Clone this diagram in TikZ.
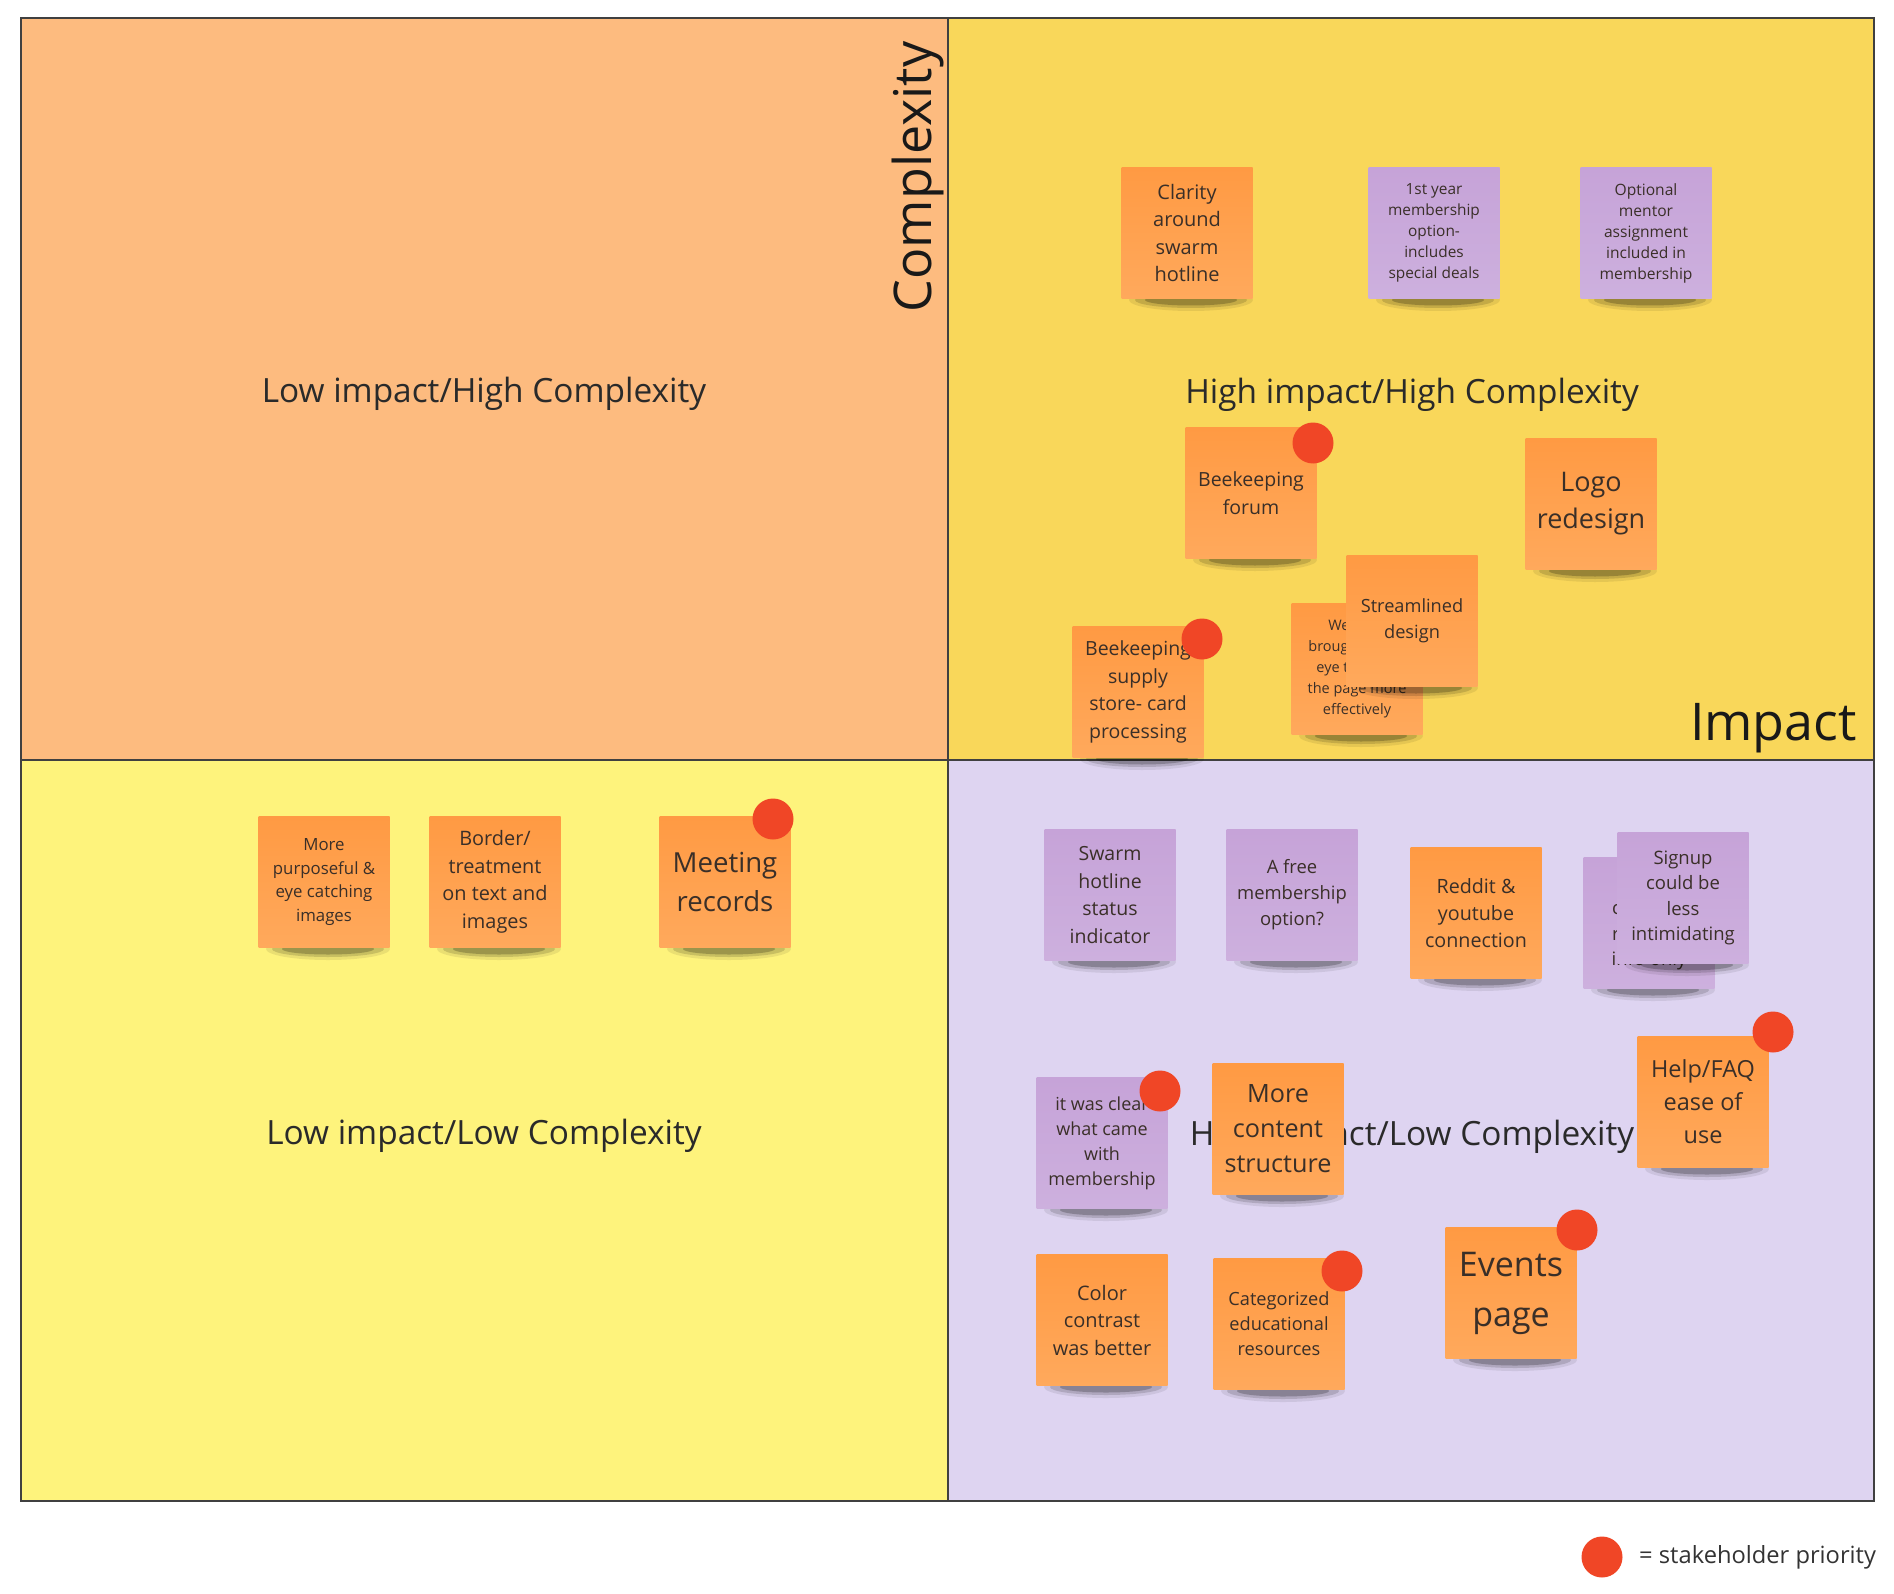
\documentclass[tikz,border=0pt]{standalone}
\usepackage{fontspec}
\setmainfont{Open Sans}
\definecolor{qTL}{HTML}{FDBB7F}
\definecolor{qTR}{HTML}{F9D75A}
\definecolor{qBL}{HTML}{FEF37C}
\definecolor{qBR}{HTML}{DED4F1}
\definecolor{orTop}{HTML}{FF9A43}
\definecolor{orBot}{HTML}{FFA95C}
\definecolor{puTop}{HTML}{C6A3D8}
\definecolor{puBot}{HTML}{CDB0DE}
\definecolor{reddot}{HTML}{F04626}
\definecolor{stktext}{HTML}{3A2F28}
\definecolor{lbltext}{HTML}{2A2A2A}
\tikzset{
  stickybox/.style={minimum width=131pt, minimum height=131pt, inner sep=0pt, align=center, text=stktext},
  orangest/.style={stickybox, top color=orTop, bottom color=orBot},
  purplest/.style={stickybox, top color=puTop, bottom color=puBot},
  prio/.style={circle, fill=reddot, minimum size=41pt, inner sep=0pt},
  quadlabel/.style={text=lbltext, font=\fontsize{33.4}{40}\selectfont},
}
% #1 name, #2 cx, #3 cy, #4 style, #5 font size, #6 skip, #7 text
\newcommand\stk[7]{%
  \fill[black,opacity=0.08] ({#2+4},{#3+67}) ellipse (62pt and 11pt);
  \fill[black,opacity=0.14] ({#2+4},{#3+67}) ellipse (56pt and 8pt);
  \fill[black,opacity=0.22] ({#2+4},{#3+67}) ellipse (46pt and 5.5pt);
  \node[#4, font=\fontsize{#5}{#6}\selectfont] (#1) at (#2,#3) {#7};
}
\begin{document}
\begin{tikzpicture}[x=1pt,y=-1pt]
\useasboundingbox (0,0) rectangle (1894,1594);
\fill[white] (0,0) rectangle (1894,1594);
% quadrants
\fill[qTL] (21,18) rectangle (948,760);
\fill[qTR] (948,18) rectangle (1874,760);
\fill[qBL] (21,760) rectangle (948,1501);
\fill[qBR] (948,760) rectangle (1874,1501);
\draw[line width=2pt, draw=black!75] (21,18) rectangle (1874,1501);
\draw[line width=2pt, draw=black!75] (948,18) -- (948,1501);
\draw[line width=2pt, draw=black!75] (21,760) -- (1874,760);
% labels
\node[quadlabel] (lhc) at (484,394) {Low impact/High Complexity};
\node[quadlabel] (hhc) at (1412,395) {High impact/High Complexity};
\node[quadlabel] (llc) at (484,1136) {Low impact/Low Complexity};
\node[quadlabel] (hlc) at (1412,1137) {High impact/Low Complexity};
\node[text=black!90, font=\fontsize{52}{60}\selectfont, rotate=90] (cpx) at (918,177) {Complexity};
\node[text=black!90, font=\fontsize{52}{60}\selectfont, anchor=base east, inner sep=0pt] (imp) at (1857,740) {Impact};
% top-right stickies
\stk{clar}{1187}{233}{orangest}{20}{27.5}{Clarity\\around\\swarm\\hotline}
\stk{mem1}{1434}{233}{purplest}{15.4}{21}{1st year\\membership\\option-\\includes\\special deals}
\stk{ment}{1646}{233}{purplest}{15.6}{21}{Optional\\mentor\\assignment\\included in\\membership}
\stk{forum}{1251}{493}{orangest}{19.5}{28}{Beekeeping\\forum}
\stk{logo}{1591}{504}{orangest}{27}{37}{Logo\\redesign}
\stk{webr}{1357}{669}{orangest}{14.5}{21}{We have\\brought users'\\eye through\\the page more\\effectively}
\stk{strm}{1412}{621}{orangest}{18.2}{25.5}{Streamlined\\design}
\stk{supp}{1138}{692}{orangest}{19.5}{27.5}{Beekeeping\\supply\\store- card\\processing}
% bottom-left stickies
\stk{purp}{324}{882}{orangest}{16.8}{23.5}{More\\purposeful \&\\eye catching\\images}
\stk{bord}{495}{882}{orangest}{19.9}{27.5}{Border/\\treatment\\on text and\\images}
\stk{meet}{725}{882}{orangest}{27.6}{38.5}{Meeting\\records}
% bottom-right stickies
\stk{swrm}{1110}{895}{purplest}{19.5}{27.5}{Swarm\\hotline\\status\\indicator}
\stk{free}{1292}{895}{purplest}{18.4}{26}{A free\\membership\\option?}
\stk{redd}{1476}{913}{orangest}{19.7}{27}{Reddit \&\\youtube\\connection}
\stk{sgnb}{1649}{923}{purplest}{18.5}{25.5}{Signup\\could be\\required\\info only}
\stk{sgn}{1683}{898}{purplest}{18.5}{25.5}{Signup\\could be\\less\\intimidating}
\stk{help}{1703}{1102}{orangest}{23.5}{33}{Help/FAQ\\ease of\\use}
\stk{clear}{1102}{1143}{purplest}{18}{25}{it was clear\\what came\\with\\membership}
\stk{cont}{1278}{1129}{orangest}{25.2}{35}{More\\content\\structure}
\stk{colr}{1102}{1320}{orangest}{20}{27.5}{Color\\contrast\\was better}
\stk{catg}{1279}{1324}{orangest}{18.2}{25}{Categorized\\educational\\resources}
\stk{evts}{1511}{1293}{orangest}{34}{50}{Events\\page}
% priority dots
\node[prio] (d1) at (1313,443) {};
\node[prio] (d2) at (1202,639) {};
\node[prio] (d3) at (773,819) {};
\node[prio] (d4) at (1773,1032) {};
\node[prio] (d5) at (1160,1091) {};
\node[prio] (d6) at (1342,1271) {};
\node[prio] (d7) at (1577,1230) {};
% legend
\node[prio] (ld) at (1602,1557) {};
\node[anchor=west, text=black!80, font=\fontsize{23.7}{28}\selectfont, inner sep=0pt] (lt) at (1639,1557) {= stakeholder priority};
\end{tikzpicture}
\end{document}
